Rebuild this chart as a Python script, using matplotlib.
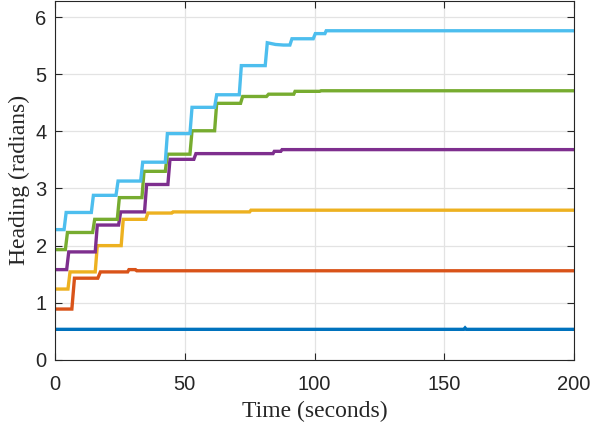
import matplotlib
matplotlib.use('Agg')
import matplotlib.pyplot as plt
import numpy as np

# step times (s) and heading levels (rad)
blue_t = [0, 157.5, 158, 158.5, 200]
blue_h = [0.535, 0.535, 0.56, 0.535, 0.535]

orange_t = [0, 6.5, 7.5, 16.5, 17.5, 28, 28.5, 31, 31.5, 200]
orange_h = [0.89, 0.89, 1.43, 1.43, 1.54, 1.54, 1.58, 1.58, 1.56, 1.56]

yellow_t = [0, 5.0, 5.8, 15.5, 16.3, 25.5, 26.3, 35.0, 35.8, 45.0, 45.5, 75.0, 75.5, 200]
yellow_h = [1.24, 1.24, 1.54, 1.54, 2.00, 2.00, 2.46, 2.46, 2.57, 2.57, 2.59, 2.59, 2.62, 2.62]

purple_t = [0, 4.5, 5.3, 15.5, 16.3, 24.5, 25.3, 34.5, 35.3, 43.5, 44.3, 53.5, 54.3, 84, 84.5, 87, 87.5, 200]
purple_h = [1.58, 1.58, 1.89, 1.89, 2.36, 2.36, 2.59, 2.59, 3.07, 3.07, 3.51, 3.51, 3.61, 3.61, 3.65, 3.65, 3.68, 3.68]

green_t = [0, 4.0, 4.8, 14.5, 15.3, 24.0, 24.8, 33.5, 34.3, 42.5, 43.3, 52.0, 52.8, 61.5, 62.3, 71.5, 72.3,
           81.5, 82.3, 92.0, 92.5, 102.0, 102.5, 200]
green_h = [1.93, 1.93, 2.23, 2.23, 2.46, 2.46, 2.84, 2.84, 3.30, 3.30, 3.60, 3.60, 4.01, 4.01, 4.49, 4.49, 4.61,
           4.61, 4.65, 4.65, 4.70, 4.70, 4.71, 4.71]

cyan_t = [0, 3.5, 4.3, 14.0, 14.8, 23.5, 24.3, 33.0, 33.8, 42.5, 43.3, 52.0, 52.8, 61.5, 62.3, 71.0, 71.8,
          81.0, 81.8, 85, 88, 90.5, 91.3, 99.5, 100.3, 104.0, 104.5, 200]
cyan_h = [2.28, 2.28, 2.58, 2.58, 2.88, 2.88, 3.13, 3.13, 3.46, 3.46, 3.96, 3.96, 4.42, 4.42, 4.64, 4.64, 5.15,
          5.15, 5.55, 5.52, 5.51, 5.51, 5.62, 5.62, 5.71, 5.71, 5.76, 5.76]

series = [
    (blue_t, blue_h, '#0072BD'),
    (orange_t, orange_h, '#D95319'),
    (yellow_t, yellow_h, '#EDB120'),
    (purple_t, purple_h, '#7E2F8E'),
    (green_t, green_h, '#77AC30'),
    (cyan_t, cyan_h, '#4DBEEE'),
]

fig = plt.figure(figsize=(5.9, 4.3), dpi=100)
ax = fig.add_axes([0.0932, 0.163, 0.8798, 0.835])

for t, h, c in series:
    ax.plot(t, h, color=c, lw=2.4, solid_joinstyle='miter')

ax.set_xlim(0, 200)
ax.set_ylim(0, 2 * np.pi)
ax.set_xticks([0, 50, 100, 150, 200])
ax.set_yticks([0, 1, 2, 3, 4, 5, 6])

ax.grid(True, color='#e3e3e3', lw=0.9)
ax.set_axisbelow(True)
ax.tick_params(direction='in', top=True, right=True, length=5, width=0.8,
               color='#262626', labelsize=14.5, labelcolor='#262626', pad=6)
ax.tick_params(axis='x', pad=11)
for lab in ax.get_xticklabels() + ax.get_yticklabels():
    lab.set_family('Liberation Sans')
for s in ax.spines.values():
    s.set_color('#262626')
    s.set_linewidth(0.8)

ax.set_xlabel('Time (seconds)', family='Liberation Serif', fontsize=17, color='#262626', labelpad=5)
ax.set_ylabel('Heading (radians)', family='Liberation Serif', fontsize=17, color='#262626', labelpad=4)

fig.savefig('out.png', dpi=100)
